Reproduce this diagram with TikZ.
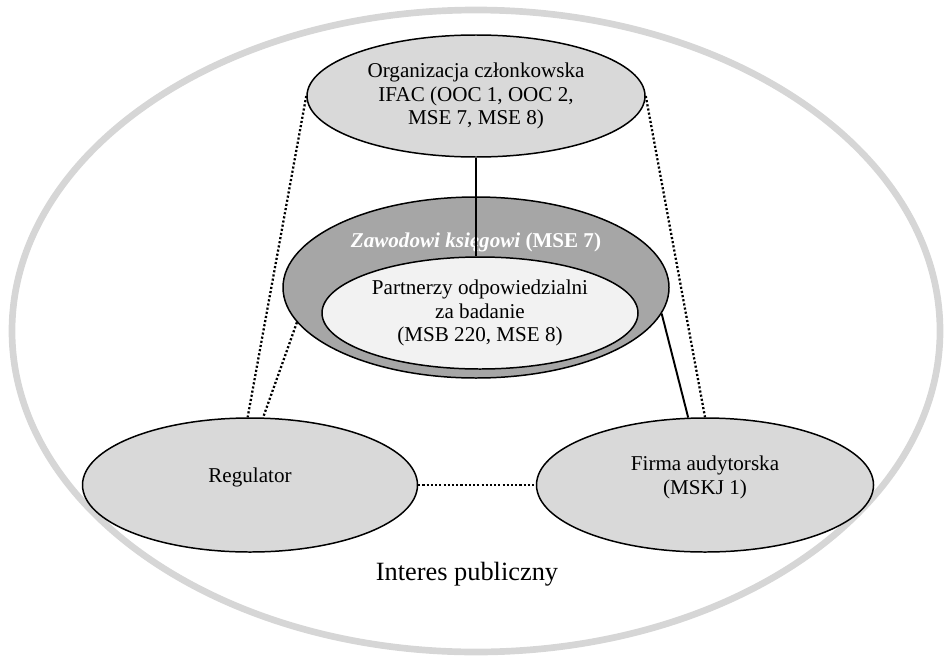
\documentclass[tikz,border=0pt]{standalone}
\usepackage{fontspec}
\setmainfont{Liberation Serif}
\usetikzlibrary{shapes.geometric}

\definecolor{partyfill}{HTML}{D9D9D9}
\definecolor{ringfill}{HTML}{A6A6A6}
\definecolor{corefill}{HTML}{F2F2F2}
\definecolor{publicgray}{HTML}{D6D6D6}

\begin{document}
\begin{tikzpicture}[font=\fontsize{12}{13.6}\selectfont]
    \tikzstyle{party}=[ellipse, draw=black, line width=0.85pt, fill=partyfill, inner sep=0pt, align=center]
    \tikzstyle{ring}=[party, fill=ringfill]
    \tikzstyle{core}=[party, fill=corefill]
    \tikzstyle{lowparty}=[party, text depth=0.41cm]
    \tikzstyle{link}=[line width=1.1pt]
    \tikzstyle{dotlink}=[line width=1.3pt, dash pattern=on 1.2pt off 1.2pt]

\useasboundingbox (0,0) rectangle (18.92,13.18);

% interes publiczny
\draw[line width=3.8pt, draw=publicgray] (9.52,6.56) ellipse [x radius=9.28, y radius=6.42];

\node[party, minimum width=6.76cm, minimum height=2.44cm] (org) at (9.52, 11.26)   {Organizacja członkowska\\IFAC (OOC 1, OOC 2,\\MSE 7, MSE 8)};
\node[ring, minimum width=7.72cm, minimum height=3.62cm]  (zk) at (9.52, 7.43)     {};
\node[core, minimum width=6.32cm, minimum height=2.24cm]  (partner) at (9.60, 6.92) {Partnerzy odpowiedzialni\\za badanie\\(MSB 220, MSE 8)};
\node[text=white, font=\fontsize{12}{13.6}\selectfont\bfseries] (zkText) at (9.52, 8.34) {\textit{Zawodowi księgowi} (MSE 7)};
\node[lowparty, minimum width=6.70cm, minimum height=2.68cm] (reg) at (5.00, 3.48)    {Regulator};
\node[lowparty, minimum width=6.74cm, minimum height=2.68cm] (firma) at (14.10, 3.48) {Firma audytorska\\(MSKJ 1)};
\node[font=\fontsize{15}{17}\selectfont] (interes) at (9.34, 1.70) {Interes publiczny};

\path
(org) edge[link] (org.south |- partner.north)
(zk.352) edge[link] (firma.104)
(org.west) edge[dotlink] (reg.92)
(org.east) edge[dotlink] (firma.north)
(zk.191) edge[dotlink] (reg.79)
(reg) edge[dotlink] (firma);
\end{tikzpicture}
\end{document}
